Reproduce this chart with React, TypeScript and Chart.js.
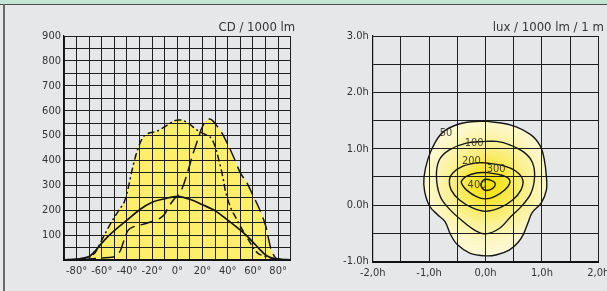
import React, { useEffect, useRef } from 'react';
import { Chart, registerables } from 'chart.js';

Chart.register(...registerables);

const FONT = '"Liberation Sans Narrow", "DejaVu Sans Condensed", "Arial Narrow", sans-serif';
const TEXT = '#333333';
const GRID = '#1f1f1f';
const YELLOW = '#fdef6c';

// ---------- left chart: CD / 1000 lm ----------
const cdTickLabels = [100, 200, 300, 400, 500, 600, 700, 800, 900];
const angleTickLabels = [-80, -60, -40, -20, 0, 20, 40, 60, 80];

const solidAngles = [-90, -80, -75, -70, -65, -60, -55, -50, -40, -30, -20, -10, 0, 10, 20, 30, 40, 50, 55, 60, 65, 70, 75, 80, 90];
const solidCd = [1, 4, 8, 14, 38, 68, 95, 118, 160, 202, 232, 246, 256, 244, 222, 198, 160, 120, 98, 72, 45, 20, 8, 3, 1];

const dashAngles = [-90, -80, -70, -60, -52, -48, -45, -42, -39, -35, -30, -25, -20, -14, -10, -7, -4, -2, 0, 4, 8, 12, 16, 19, 22, 25, 28, 32, 36, 40, 45, 50, 55, 60, 65, 70, 72, 74, 76, 78, 82, 90];
const dashCd = [0, 2, 4, 8, 11, 18, 40, 85, 120, 133, 140, 147, 155, 167, 185, 214, 235, 248, 255, 290, 350, 420, 480, 525, 555, 566, 560, 535, 505, 465, 410, 350, 312, 260, 207, 140, 95, 50, 25, 8, 3, 0];

const dashDotAngles = [-90, -80, -75, -70, -65, -60, -55, -50, -45, -42, -39, -36, -33, -30, -27, -23, -16, -8, -3, 0, 4, 10, 14, 18, 22, 26, 28.5, 31, 33, 35, 37, 38, 42, 46, 51, 55, 59, 64, 72, 80, 90];
const dashDotCd = [0, 2, 5, 10, 32, 80, 128, 172, 210, 235, 290, 360, 420, 465, 495, 509, 518, 542, 558, 562, 562, 545, 528, 515, 505, 494, 475, 440, 400, 360, 310, 281, 214, 174, 127, 94, 60, 27, 11, 3, 0];

// ---------- right chart: lux / 1000 lm / 1 m ----------
const hTicksX = [-2, -1, 0, 1, 2];
const hTicksY = [-1, 0, 1, 2, 3];

const iso50X = [0, 0.45, 0.8, 0.97, 1.04, 1.08, 1.08, 0.99, 0.83, 0.75, 0.68, 0.58, 0.42, 0.2, 0, -0.28, -0.5, -0.62, -0.72, -0.85, -0.99, -1.08, -1.09, -1.02, -0.9, -0.75, -0.5, -0.25, 0];
const iso50Y = [1.49, 1.42, 1.25, 1.05, 0.82, 0.5, 0.27, 0.04, -0.13, -0.32, -0.5, -0.66, -0.8, -0.88, -0.9, -0.85, -0.7, -0.52, -0.29, -0.17, -0.02, 0.25, 0.5, 0.82, 1.1, 1.3, 1.43, 1.48, 1.49];

const iso100X = [0, 0.2, 0.43, 0.68, 0.83, 0.87, 0.8, 0.62, 0.45, 0.25, 0, -0.2, -0.4, -0.63, -0.8, -0.87, -0.82, -0.64, -0.34, 0];
const iso100Y = [1.13, 1.13, 1.07, 0.94, 0.76, 0.5, 0.2, -0.04, -0.2, -0.41, -0.51, -0.44, -0.29, -0.08, 0.15, 0.5, 0.8, 0.98, 1.1, 1.13];

const iso200X = [0, 0.31, 0.54, 0.66, 0.63, 0.48, 0.25, 0, -0.23, -0.46, -0.61, -0.64, -0.58, -0.4, -0.16, 0];
const iso200Y = [0.75, 0.7, 0.6, 0.45, 0.27, 0.09, -0.05, -0.11, -0.05, 0.09, 0.27, 0.45, 0.57, 0.69, 0.75, 0.75];

const iso300X = [0, 0.25, 0.4, 0.43, 0.34, 0.16, 0, -0.16, -0.34, -0.41, -0.43, -0.34, -0.16, 0];
const iso300Y = [0.58, 0.54, 0.48, 0.39, 0.27, 0.15, 0.11, 0.15, 0.27, 0.36, 0.42, 0.51, 0.57, 0.58];

const iso400X = [-0.02, 0.07, 0.17, 0.13, 0.02, -0.06, -0.08, -0.02];
const iso400Y = [0.46, 0.45, 0.39, 0.3, 0.26, 0.3, 0.38, 0.46];

const isoLabels = ['50', '100', '200', '300', '400'];
const isoLabelX = [-0.7, -0.2, -0.25, 0.19, -0.15];
const isoLabelY = [1.28, 1.1, 0.78, 0.63, 0.36];

const peakX = 0.05;
const peakY = 0.37;

const pts = (xs: number[], ys: number[]) => xs.map((x, i) => ({ x, y: ys[i] }));

const cornerText = {
  id: 'cornerText',
  afterDraw(chart: any, _args: any, opts: any) {
    const { ctx, chartArea } = chart;
    ctx.save();
    ctx.font = `13px ${FONT}`;
    ctx.fillStyle = TEXT;
    ctx.textAlign = 'right';
    ctx.textBaseline = 'alphabetic';
    ctx.fillText(opts.text, chartArea.right + opts.dx, opts.y);
    ctx.restore();
  },
};

const isoLabelPlugin = {
  id: 'isoLabels',
  afterDatasetsDraw(chart: any) {
    const { ctx, scales } = chart;
    ctx.save();
    ctx.font = `11px ${FONT}`;
    ctx.fillStyle = 'rgba(40,40,40,0.85)';
    ctx.textAlign = 'center';
    ctx.textBaseline = 'middle';
    isoLabels.forEach((t, i) => {
      ctx.fillText(t, scales.x.getPixelForValue(isoLabelX[i]), scales.y.getPixelForValue(isoLabelY[i]));
    });
    ctx.restore();
  },
};

const tickFont = { family: FONT, size: 11 };

function LeftChart() {
  const ref = useRef<HTMLCanvasElement>(null);
  useEffect(() => {
    const chart = new Chart(ref.current!, {
      type: 'line',
      data: {
        datasets: [
          {
            data: pts(solidAngles, solidCd),
            borderColor: '#151515',
            borderWidth: 1.7,
            pointRadius: 0,
            fill: false,
            tension: 0.3,
          },
          {
            data: pts(dashAngles, dashCd),
            borderColor: '#151515',
            borderWidth: 1.5,
            borderDash: [13, 6],
            pointRadius: 0,
            fill: 'origin',
            backgroundColor: YELLOW,
            tension: 0.3,
          },
          {
            data: pts(dashDotAngles, dashDotCd),
            borderColor: '#151515',
            borderWidth: 1.5,
            borderDash: [7, 3, 2, 3],
            pointRadius: 0,
            fill: 'origin',
            backgroundColor: YELLOW,
            tension: 0.3,
          },
        ],
      },
      options: {
        animation: false,
        responsive: false,
        layout: { padding: { top: 36, right: 9.3, left: 0, bottom: 0 } },
        plugins: {
          legend: { display: false },
          tooltip: { enabled: false },
          filler: { drawTime: 'beforeDraw' },
          cornerText: { text: 'CD / 1000 lm', dx: 4.5, y: 30.5 },
        } as any,
        scales: {
          x: {
            type: 'linear',
            min: -90,
            max: 90,
            ticks: {
              stepSize: 10,
              autoSkip: false,
              maxRotation: 0,
              padding: 5,
              font: tickFont,
              color: TEXT,
              callback: (v: any) => (angleTickLabels.includes(v) ? `${v}°` : ''),
            },
            grid: { color: GRID, lineWidth: 1, drawTicks: false },
            border: { color: '#111', width: 2 },
            afterFit: (s: any) => {
              s.height = 31;
              s.paddingLeft = 0;
              s.paddingRight = 0;
            },
          },
          y: {
            type: 'linear',
            min: 0,
            max: 900,
            ticks: {
              stepSize: 50,
              autoSkip: false,
              padding: 3,
              font: tickFont,
              color: TEXT,
              callback: (v: any) => (cdTickLabels.includes(v) ? String(v) : ''),
            },
            grid: { color: GRID, lineWidth: 1, drawTicks: false },
            border: { color: '#111', width: 1.2 },
            afterFit: (s: any) => {
              s.width = 64;
              s.paddingTop = 0;
              s.paddingBottom = 0;
            },
          },
        },
      } as any,
      plugins: [cornerText],
    });
    return () => chart.destroy();
  }, []);
  return <canvas ref={ref} width={300} height={291} style={{ position: 'absolute', left: 0, top: 0, width: 300, height: 291 }} />;
}

function RightChart() {
  const ref = useRef<HTMLCanvasElement>(null);
  useEffect(() => {
    const gradient = (c: any) => {
      const chart = c.chart;
      const { scales, chartArea } = chart;
      if (!chartArea || !scales.x || !scales.y) return 'rgba(253,248,210,1)';
      const cx = scales.x.getPixelForValue(peakX);
      const cy = scales.y.getPixelForValue(peakY);
      const r = 80;
      const g = chart.ctx.createRadialGradient(cx, cy, 0, cx, cy, r);
      g.addColorStop(0, '#f5e200');
      g.addColorStop(0.12, '#f6e41c');
      g.addColorStop(0.3, '#f9ea55');
      g.addColorStop(0.5, '#fbf195');
      g.addColorStop(0.72, '#fdf7c6');
      g.addColorStop(1, '#fefbe2');
      return g;
    };
    const line = (xs: number[], ys: number[], extra: any = {}) => ({
      data: pts(xs, ys),
      showLine: true,
      borderColor: '#161616',
      borderWidth: 1.4,
      pointRadius: 0,
      tension: 0.35,
      fill: false,
      ...extra,
    });
    const chart = new Chart(ref.current!, {
      type: 'scatter',
      data: {
        datasets: [
          line(iso50X, iso50Y, { fill: 'shape', backgroundColor: gradient }),
          line(iso100X, iso100Y),
          line(iso200X, iso200Y),
          line(iso300X, iso300Y),
          line(iso400X, iso400Y),
        ],
      },
      options: {
        animation: false,
        responsive: false,
        layout: { padding: { top: 36, right: 8.7, left: 0, bottom: 0 } },
        plugins: {
          legend: { display: false },
          tooltip: { enabled: false },
          filler: { drawTime: 'beforeDraw' },
          cornerText: { text: 'lux / 1000 lm / 1 m', dx: 5.5, y: 30.5 },
        } as any,
        scales: {
          x: {
            type: 'linear',
            min: -2,
            max: 2,
            ticks: {
              stepSize: 0.5,
              autoSkip: false,
              maxRotation: 0,
              padding: 5,
              font: tickFont,
              color: TEXT,
              callback: (v: any) => (hTicksX.includes(v) ? `${Number(v).toFixed(1).replace('.', ',')}h` : ''),
            },
            grid: { color: GRID, lineWidth: 1, drawTicks: false },
            border: { color: '#111', width: 2 },
            afterFit: (s: any) => {
              s.height = 29.5;
              s.paddingLeft = 0;
              s.paddingRight = 0;
            },
          },
          y: {
            type: 'linear',
            min: -1,
            max: 3,
            ticks: {
              stepSize: 0.5,
              autoSkip: false,
              padding: 4,
              font: tickFont,
              color: TEXT,
              callback: (v: any) => (hTicksY.includes(v) ? `${Number(v).toFixed(1)}h` : ''),
            },
            grid: { color: GRID, lineWidth: 1, drawTicks: false },
            border: { color: '#111', width: 1.2 },
            afterFit: (s: any) => {
              s.width = 72.7;
              s.paddingTop = 0;
              s.paddingBottom = 0;
            },
          },
        },
      } as any,
      plugins: [cornerText, isoLabelPlugin],
    });
    return () => chart.destroy();
  }, []);
  return <canvas ref={ref} width={307} height={291} style={{ position: 'absolute', left: 300, top: 0, width: 307, height: 291 }} />;
}

export default function App() {
  return (
    <div style={{ position: 'absolute', left: 0, top: 0, width: 607, height: 291, overflow: 'hidden', background: '#e6e7e8' }}>
      <div style={{ position: 'absolute', left: 0, top: 0, width: 607, height: 4, background: '#c4e4d5' }} />
      <div style={{ position: 'absolute', left: 0, top: 4, width: 607, height: 1, background: '#4d4d4d' }} />
      <div style={{ position: 'absolute', left: 3, top: 4, width: 2, height: 287, background: '#6a6a6a' }} />
      <LeftChart />
      <RightChart />
    </div>
  );
}
